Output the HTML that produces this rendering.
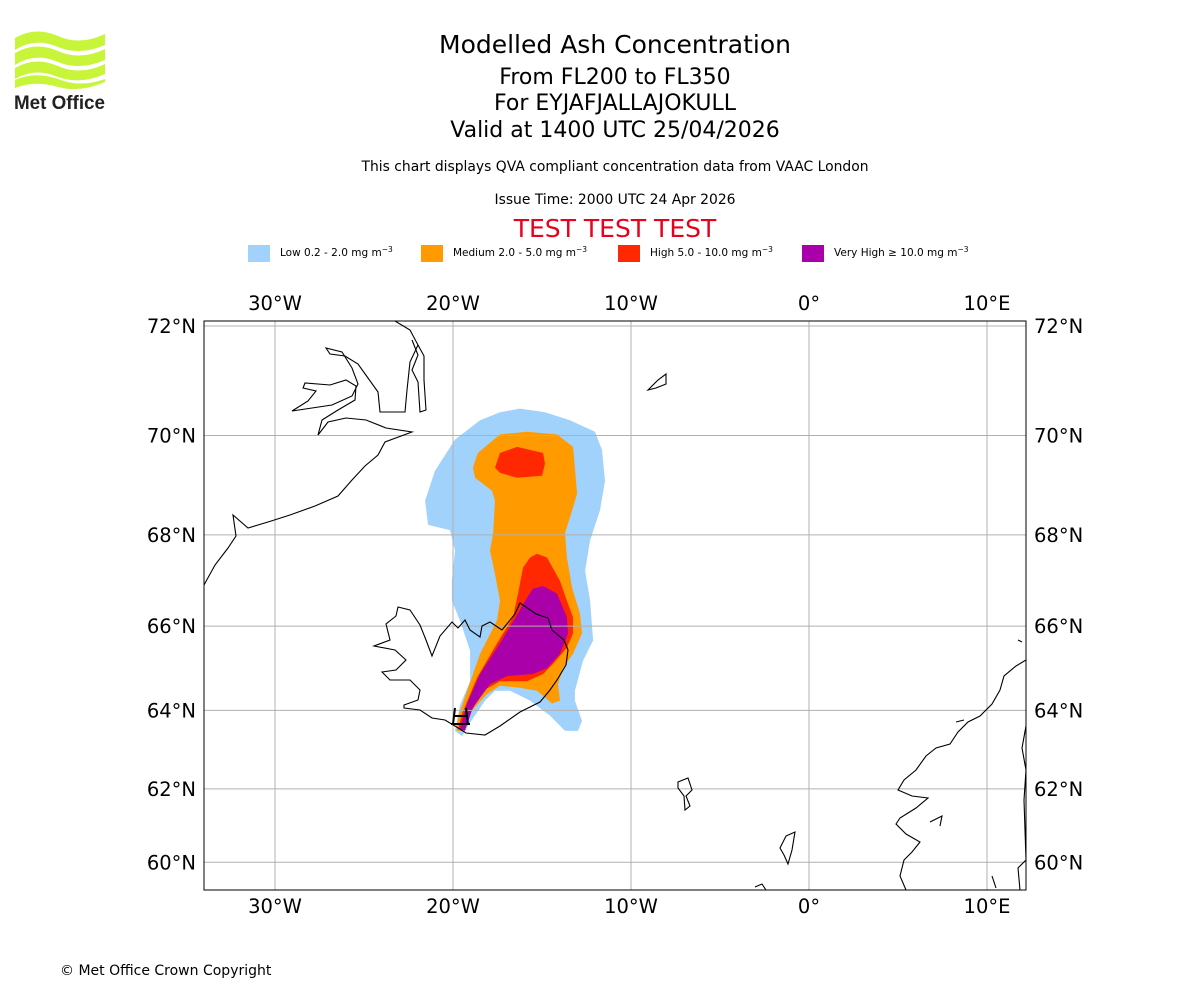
<!DOCTYPE html>
<html><head><meta charset="utf-8"><style>
body{margin:0;background:#fff;width:1200px;height:1000px;overflow:hidden;font-family:"DejaVu Sans","Liberation Sans",sans-serif;}
svg text{font-family:"DejaVu Sans","Liberation Sans",sans-serif;}
</style></head><body>
<svg id="chart" width="1200" height="1000" viewBox="0 0 1200 1000" xmlns="http://www.w3.org/2000/svg">
<g>
<path d="M15,38 Q35,26 58,36 Q80,46 105,34 L105,45 Q80,56 58,47 Q35,37 15,50Z" fill="#c8f53a"/>
<path d="M15,53 Q35,41 58,51 Q80,61 105,49 L105,60 Q80,71 58,62 Q35,52 15,65Z" fill="#c8f53a"/>
<path d="M15,68 Q35,56 58,66 Q80,76 105,64 L105,74 Q80,85 58,77 Q35,67 15,79Z" fill="#c8f53a"/>
<path d="M15,80 Q35,71 58,79 Q80,88 105,79 L105,82 Q80,93 58,87 Q35,80 15,88Z" fill="#c8f53a"/>
<text x="14" y="109" font-size="19" font-weight="bold" fill="#222" textLength="91" lengthAdjust="spacingAndGlyphs" style="font-family:'Liberation Sans',sans-serif">Met Office</text>
</g>
<g text-anchor="middle">
<text x="615" y="53" font-size="25">Modelled Ash Concentration</text>
<text x="615" y="84" font-size="22">From FL200 to FL350</text>
<text x="615" y="110" font-size="22">For EYJAFJALLAJOKULL</text>
<text x="615" y="137" font-size="22">Valid at 1400 UTC 25/04/2026</text>
<text x="615" y="171" font-size="13.9">This chart displays QVA compliant concentration data from VAAC London</text>
<text x="615" y="204" font-size="13.9">Issue Time: 2000 UTC 24 Apr 2026</text>
<text x="615" y="237" font-size="25" fill="#e8001c">TEST TEST TEST</text>
</g>
<g id="legend"></g>
<defs><clipPath id="mapclip"><rect x="204" y="321" width="822" height="569"/></clipPath></defs>
<g clip-path="url(#mapclip)">
<g id="ash"></g>
<g id="grid"></g>
<g fill="none" stroke="#000" stroke-width="1.1">
<path d="M204,585 L215,565 L228,548 L236,536 L233,515 L248,528 L268,522 L290,515 L315,506 L338,496 L352,480 L365,466 L378,455 L385,442 L412,432 L386,428 L366,420 L346,418 L328,422 L318,435 L322,420 L338,410 L355,400 L356,386 L346,380 L330,385 L305,383 L303,388 L316,391 L308,401 L292,411 L312,408 L332,405 L352,396 L358,384 L352,368 L342,352 L326,348 L330,354 L345,356 L358,364 L368,378 L378,392 L380,412 L405,412 L407,390 L410,362 L418,345 L410,330 L395,321"/>
<path d="M412,340 L418,355 L412,370 L418,382 L420,412 L426,410 L424,380 L424,356 L418,345"/>
<path d="M404,708 L420,710 L432,718 L445,720 L455,726 L466,733 L485,735 L500,726 L520,712 L540,702 L550,690 L557,680 L566,665 L568,650 L564,640 L552,630 L548,618 L536,614 L520,603 L515,614 L502,630 L490,622 L482,626 L480,637 L470,630 L465,620 L458,628 L452,622 L440,636 L432,656 L426,640 L420,625 L410,610 L398,607 L396,616 L386,624 L390,640 L374,646 L395,650 L406,660 L396,670 L382,672 L390,680 L410,680 L420,690 L418,700 L404,705 Z"/>
<path d="M648,390 L658,380 L666,374 L666,384 L656,388 Z"/>
<path d="M678,782 L688,778 L692,790 L686,796 L690,806 L685,810 L684,796 L678,788 Z"/>
<path d="M786,836 L795,832 L792,850 L788,864 L784,855 L780,848 Z"/>
<path d="M755,887 L762,884 L766,890"/>
<path d="M1026,660 L1016,666 L1004,676 L1000,690 L992,704 L980,716 L968,722 L958,732 L950,744 L936,748 L926,756 L916,770 L904,780 L898,790 L912,796 L928,798 L916,808 L900,818 L896,824 L906,834 L920,842 L912,852 L904,860 L900,876 L906,890"/>
<path d="M1026,726 L1022,748 L1026,770 L1024,800 L1026,860 L1018,868 L1020,890"/>
<path d="M1018,640 L1022,642 M956,722 L964,720 M930,822 L942,816 L940,826 M992,876 L996,888"/>
</g>
<g stroke="#000" stroke-width="2" fill="none">
<path d="M455,708 L453,724 M466,708 L468,724 M454,716 L467,716 M451,724 L470,724"/>
</g>
</g>
<rect x="204" y="321" width="822" height="569" fill="none" stroke="#000" stroke-width="1"/>
<g id="ticks" font-size="19.5"></g>
<text x="60" y="975" font-size="14">© Met Office Crown Copyright</text>
</svg>
<script>
const NS="http://www.w3.org/2000/svg";
const legendLabels=["Low 0.2 - 2.0 mg m","Medium 2.0 - 5.0 mg m","High 5.0 - 10.0 mg m","Very High \u2265 10.0 mg m"];
const legendColors=["#a0d2fc","#ff9a00","#ff2800","#aa00aa"];
const lonTicks=[-30,-20,-10,0,10];
const lonLabels=["30°W","20°W","10°W","0°","10°E"];
const latTicks=[60,62,64,66,68,70,72];
const latLabels=["60°N","62°N","64°N","66°N","68°N","70°N","72°N"];
const lowLon=[-16.24,-14.83,-13.43,-12.02,-11.63,-11.46,-11.74,-12.30,-12.58,-12.30,-12.13,-12.70,-13.15,-13.15,-12.75,-12.98,-13.71,-14.55,-15.67,-16.80,-17.64,-18.20,-19.16,-19.49,-19.89,-19.61,-19.04,-19.04,-19.61,-20.06,-20.06,-19.89,-20.17,-21.40,-21.57,-21.01,-19.89,-18.48,-17.36];
const lowLat=[70.51,70.44,70.29,70.07,69.72,69.11,68.51,67.89,67.23,66.57,65.67,65.19,64.48,64.24,63.74,63.49,63.49,63.87,64.24,64.48,64.48,64.24,63.62,63.36,63.49,64.12,64.71,65.43,66.13,66.57,67.01,67.67,68.10,68.21,68.71,69.31,69.92,70.29,70.44];
const medLon=[-18.60,-17.36,-15.84,-14.16,-13.26,-13.15,-13.03,-13.43,-13.71,-13.60,-13.31,-12.87,-12.75,-13.26,-13.82,-14.10,-13.99,-14.44,-15.28,-16.24,-17.36,-18.09,-18.93,-19.49,-19.78,-19.72,-19.21,-18.48,-17.53,-17.36,-17.64,-17.92,-17.75,-17.64,-17.81,-18.76,-18.88];
const medLat=[69.66,70.02,70.07,70.02,69.78,69.37,68.85,68.36,68.04,67.52,66.86,66.29,65.83,65.36,65.02,64.64,64.24,64.17,64.48,64.55,64.60,64.40,64.00,63.49,63.49,63.82,64.48,65.36,66.13,66.57,67.16,67.67,68.04,68.71,68.91,69.17,69.37];
const highTopLon=[-17.36,-16.40,-14.94,-14.83,-15.00,-16.40,-17.36,-17.64];
const highTopLat=[69.66,69.78,69.66,69.45,69.21,69.17,69.27,69.37];
const highLon=[-15.28,-14.72,-13.99,-13.60,-13.26,-13.26,-13.60,-14.38,-14.94,-15.84,-17.36,-18.31,-19.04,-19.44,-19.72,-19.49,-18.65,-17.53,-16.63,-16.35,-16.07,-15.67];
const highLat=[67.60,67.52,67.01,66.57,66.20,65.83,65.50,65.12,64.88,64.71,64.71,64.48,63.92,63.49,63.54,63.92,64.79,65.60,66.20,66.73,67.30,67.52];
const vhLon=[-14.94,-14.16,-13.60,-13.54,-13.99,-14.72,-15.51,-16.97,-17.92,-18.88,-19.33,-19.61,-19.21,-18.48,-17.36,-16.35,-15.84,-15.51];
const vhLat=[66.90,66.73,66.20,65.83,65.36,65.02,64.88,64.83,64.64,64.07,63.49,63.54,64.17,64.88,65.60,66.29,66.64,66.84];

const merc=l=>Math.log(Math.tan(Math.PI/4+l*Math.PI/360));
const xS=lon=>809+lon*17.8;
const yS=lat=>326-1020*(merc(lat)-merc(72));

function poly(lons,lats,color,name){
  const p=document.createElementNS(NS,'polygon');
  p.setAttribute('points',lons.map((lo,i)=>xS(lo).toFixed(1)+','+yS(lats[i]).toFixed(1)).join(' '));
  p.setAttribute('fill',color);
  
  
  document.getElementById('ash').appendChild(p);
}
poly(lowLon,lowLat,legendColors[0],'ash-low');
poly(medLon,medLat,legendColors[1],'ash-medium');
poly(highTopLon,highTopLat,legendColors[2],'ash-high-north');
poly(highLon,highLat,legendColors[2],'ash-high-south');
poly(vhLon,vhLat,legendColors[3],'ash-very-high');

const grid=document.getElementById('grid');
lonTicks.forEach(lo=>{
  const l=document.createElementNS(NS,'line');
  l.setAttribute('x1',xS(lo));l.setAttribute('x2',xS(lo));l.setAttribute('y1',321);l.setAttribute('y2',890);
  l.setAttribute('stroke','#b0b0b0');l.setAttribute('stroke-width','1');
  
  
  grid.appendChild(l);
});
latTicks.forEach(la=>{
  const l=document.createElementNS(NS,'line');
  l.setAttribute('y1',yS(la));l.setAttribute('y2',yS(la));l.setAttribute('x1',204);l.setAttribute('x2',1026);
  l.setAttribute('stroke','#b0b0b0');l.setAttribute('stroke-width','1');
  
  
  grid.appendChild(l);
});
const ticks=document.getElementById('ticks');
function txt(x,y,s,anchor,name,parent,size){
  const t=document.createElementNS(NS,'text');
  t.setAttribute('x',x);t.setAttribute('y',y);t.setAttribute('text-anchor',anchor);
  if(size)t.setAttribute('font-size',size);
  t.textContent=s;
  
  
  parent.appendChild(t);return t;
}
lonTicks.forEach((lo,i)=>{
  txt(xS(lo),310,lonLabels[i],'middle','lon-label-top',ticks);
  txt(xS(lo),913,lonLabels[i],'middle','lon-label-bottom',ticks);
});
latTicks.forEach((la,i)=>{
  txt(196,yS(la)+7,latLabels[i],'end','lat-label-left',ticks);
  txt(1034,yS(la)+7,latLabels[i],'start','lat-label-right',ticks);
});
const leg=document.getElementById('legend');
const legX=[248,421,618,802];
legendLabels.forEach((s,i)=>{
  const r=document.createElementNS(NS,'rect');
  r.setAttribute('x',legX[i]);r.setAttribute('y',245);r.setAttribute('width',22);r.setAttribute('height',17);
  r.setAttribute('fill',legendColors[i]);
  
  
  leg.appendChild(r);
  const t=txt(legX[i]+32,256,s,'start','legend-entry',leg,10.5);
  const sup=document.createElementNS(NS,'tspan');
  sup.setAttribute('dy','-4');sup.setAttribute('font-size','7.5');sup.textContent='\u22123';
  t.appendChild(sup);
});
</script>
</body></html>
